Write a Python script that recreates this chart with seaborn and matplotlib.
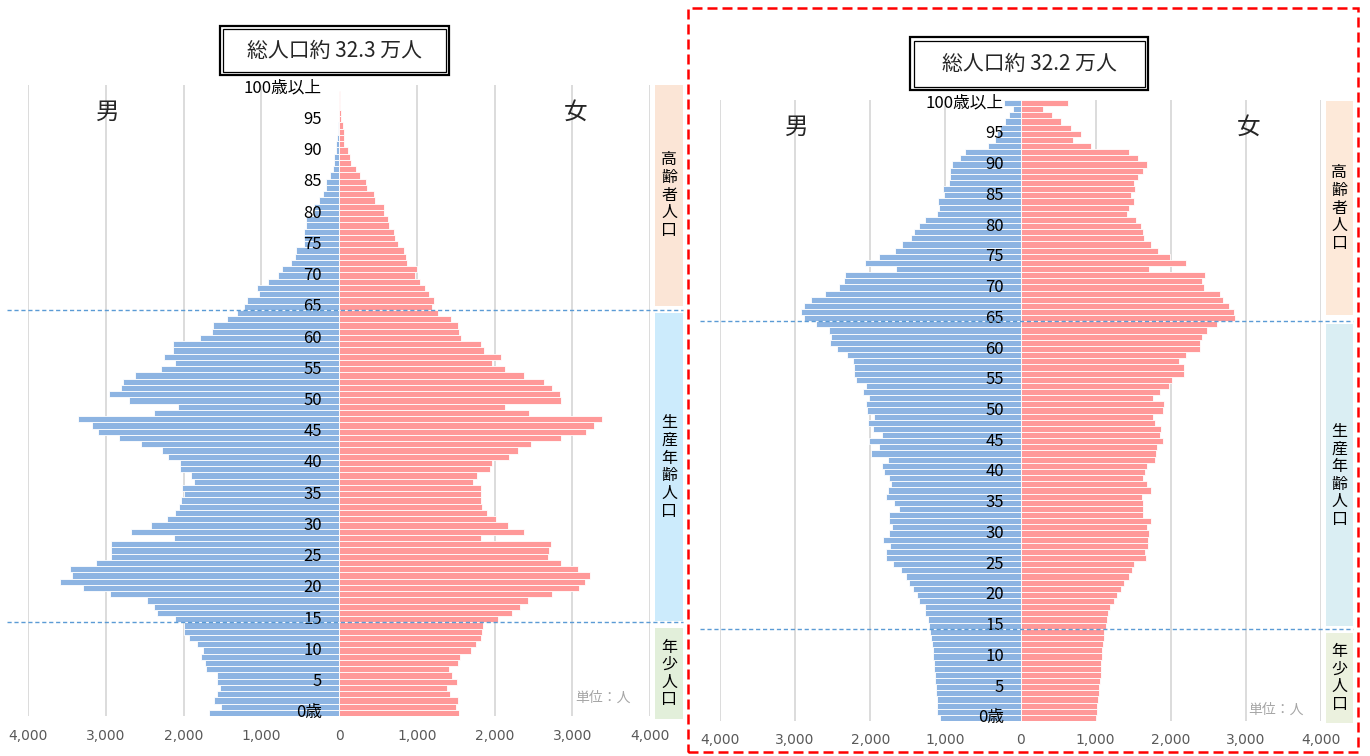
import numpy as np
import pandas as pd
import matplotlib
matplotlib.use('Agg')
import matplotlib.pyplot as plt
from matplotlib.patches import Rectangle
import seaborn as sns

sns.set_style('white')
plt.rcParams['font.family'] = ['Noto Sans CJK JP', 'DejaVu Sans']

# ---- data (ages 0..99, last entry = 100歳以上) ----
ages = list(range(101))

male_a = [1667, 1513, 1603, 1564, 1530, 1568, 1573, 1705, 1718, 1769,
          1744, 1829, 1923, 1996, 1996, 2115, 2346, 2380, 2474, 2949,
          3299, 3585, 3432, 3466, 3128, 2932, 2936, 2936, 2124, 2679,
          2419, 2218, 2111, 2064, 2038, 1996, 2017, 1863, 1906, 2047,
          2047, 2205, 2278, 2543, 2833, 3098, 3175, 3359, 2385, 2077,
          2701, 2953, 2799, 2782, 2624, 2286, 2115, 2248, 2141, 2141,
          1786, 1637, 1624, 1436, 1308, 1222, 1188, 1026, 1060, 919,
          786, 731, 620, 568, 551, 444, 444, 444, 419, 419,
          321, 321, 261, 201, 162, 162, 120, 73, 64, 64,
          43, 38, 21, 13, 9, 6, 4, 2, 1, 1, 0]
female_a = [1543, 1509, 1534, 1427, 1393, 1521, 1453, 1419, 1526, 1560,
            1692, 1761, 1829, 1838, 1850, 2051, 2226, 2325, 2436, 2739,
            3081, 3162, 3226, 3068, 2855, 2688, 2701, 2726, 1821, 2380,
            2175, 2017, 1906, 1842, 1821, 1829, 1829, 1726, 1774, 1940,
            1974, 2192, 2303, 2474, 2855, 3179, 3282, 3389, 2449, 2132,
            2855, 2842, 2739, 2632, 2380, 2137, 1962, 2085, 1863, 1829,
            1568, 1538, 1530, 1444, 1278, 1201, 1222, 1162, 1107, 1038,
            983, 1004, 880, 868, 842, 765, 726, 701, 645, 632,
            581, 581, 457, 449, 355, 342, 274, 214, 158, 137,
            111, 64, 64, 64, 47, 26, 21, 15, 12, 10, 5]

male_b = [1067, 1107, 1111, 1116, 1124, 1129, 1138, 1142, 1151, 1156,
          1160, 1169, 1173, 1187, 1204, 1218, 1231, 1267, 1271, 1351,
          1382, 1436, 1480, 1529, 1587, 1698, 1787, 1787, 1742, 1827,
          1747, 1711, 1756, 1756, 1622, 1689, 1787, 1760, 1720, 1747,
          1813, 1840, 1769, 1991, 1884, 2013, 1849, 1964, 2027, 1947,
          2040, 2053, 2022, 2093, 2058, 2187, 2222, 2222, 2231, 2311,
          2444, 2542, 2529, 2551, 2716, 2884, 2924, 2880, 2791, 2596,
          2422, 2347, 2338, 1658, 2071, 1880, 1676, 1578, 1458, 1422,
          1351, 1271, 1111, 1084, 1093, 1018, 1027, 947, 938, 938,
          907, 800, 733, 436, 342, 311, 276, 209, 147, 102, 222]
female_b = [1000, 1018, 1022, 1031, 1040, 1049, 1053, 1067, 1071, 1076,
            1084, 1089, 1098, 1107, 1116, 1133, 1147, 1169, 1196, 1244,
            1289, 1338, 1382, 1444, 1489, 1516, 1671, 1653, 1693, 1693,
            1716, 1689, 1742, 1636, 1627, 1636, 1613, 1742, 1680, 1631,
            1662, 1689, 1787, 1809, 1822, 1902, 1858, 1876, 1787, 1764,
            1898, 1907, 1764, 1858, 1973, 2018, 2178, 2182, 2107, 2200,
            2396, 2387, 2413, 2480, 2622, 2849, 2840, 2769, 2693, 2662,
            2440, 2413, 2462, 1707, 2209, 1987, 1831, 1733, 1649, 1636,
            1604, 1533, 1422, 1440, 1507, 1467, 1520, 1507, 1560, 1636,
            1680, 1569, 1444, 933, 698, 800, 667, 533, 418, 293, 636]

age_ticks = list(range(0, 100, 5)) + [100]
age_labels = ['0歳'] + [str(a) for a in range(5, 100, 5)] + ['100歳以上']
x_ticks = [-4000, -3000, -2000, -1000, 0, 1000, 2000, 3000, 4000]
x_labels = ['4,000', '3,000', '2,000', '1,000', '0', '1,000', '2,000', '3,000', '4,000']
groups = ['高齢者人口', '生産年齢人口', '年少人口']

MALE = '#8DB4E2'
FEMALE = '#FF9999'
W, H = 1370, 756


def fx(x):
    return x / W


def fy(y):
    return 1 - y / H


def draw_pyramid(fig, male, female, box, band_x, band_spans, band_colors,
                 title, title_box, sex_pos, unit_pos):
    x0, x1, ytop, ybot = box
    ax = fig.add_axes([fx(x0), fy(ybot), fx(x1 - x0), (ybot - ytop) / H])
    df = pd.DataFrame({'age': ages, 'male': -np.array(male), 'female': female})
    sns.barplot(data=df, x='male', y='age', orient='y', native_scale=True,
                color=MALE, saturation=1, width=1.0, edgecolor='white',
                linewidth=0.6, errorbar=None, ax=ax, zorder=2)
    sns.barplot(data=df, x='female', y='age', orient='y', native_scale=True,
                color=FEMALE, saturation=1, width=1.0, edgecolor='white',
                linewidth=0.6, errorbar=None, ax=ax, zorder=2)
    ax.set_xlim(-4000, 4000)
    ax.set_ylim(-0.5, 100.5)
    ax.set_xlabel('')
    ax.set_ylabel('')
    ax.set_yticks([])
    ax.set_xticks(x_ticks)
    ax.set_xticklabels(x_labels, color='#595959', fontsize=10,
                       family=['DejaVu Sans'])
    ax.tick_params(axis='x', length=0, pad=9)
    for s in ax.spines.values():
        s.set_visible(False)
    for xt in x_ticks:
        if xt != 0:
            ax.axvline(xt, color='#D9D9D9', lw=1.3, zorder=0)

    # age labels over the male bars
    for a, lab in zip(age_ticks, age_labels):
        ax.text(-220, a, lab, ha='right', va='center', fontsize=12,
                color='black', zorder=5)

    # dashed boundaries 65 / 15
    for yy in (64.5, 14.5):
        ax.plot([-0.034, 1.053], [yy, yy], transform=ax.get_yaxis_transform(),
                ls=(0, (3, 2)), color='#5B9BD5', lw=1.0, clip_on=False, zorder=6)

    # side bands
    bx0, bx1 = band_x
    bax = fig.add_axes([fx(bx0), fy(ybot), fx(bx1 - bx0), (ybot - ytop) / H])
    bax.set_ylim(-0.5, 100.5)
    bax.set_xlim(0, 1)
    bax.axis('off')
    for (lo, hi), col, g in zip(band_spans, band_colors, groups):
        bax.axhspan(lo, hi, color=col, clip_on=False, lw=0)
        bax.text(0.5, (lo + hi) / 2, '\n'.join(g), ha='center', va='center',
                 fontsize=11.5, linespacing=1.05, color='black')

    # title with double frame
    tx0, ty0, tx1, ty1 = title_box
    for inset, lw in ((0, 1.6), (3.5, 0.9)):
        fig.patches.append(Rectangle((fx(tx0 + inset), fy(ty1 - inset)),
                                     fx(tx1 - tx0 - 2 * inset),
                                     (ty1 - ty0 - 2 * inset) / H,
                                     transform=fig.transFigure, fill=False,
                                     ec='black', lw=lw))
    fig.text(fx((tx0 + tx1) / 2), fy((ty0 + ty1) / 2), title, ha='center',
             va='center', fontsize=15)

    (mx, my), (fxp, fyp) = sex_pos
    fig.text(fx(mx), fy(my), '男', ha='center', va='center', fontsize=17)
    fig.text(fx(fxp), fy(fyp), '女', ha='center', va='center', fontsize=17)
    fig.text(fx(unit_pos[0]), fy(unit_pos[1]), '単位：人', ha='center',
             va='center', fontsize=10, color='#A6A6A6')
    return ax


fig = plt.figure(figsize=(W / 100, H / 100), dpi=100)

draw_pyramid(fig, male_a, female_a,
             box=(28, 650, 85, 716), band_x=(655, 683),
             band_spans=[(65.2, 100.5), (14.7, 64.0), (-1.0, 13.6)],
             band_colors=['#FBE5D6', '#CCEBFC', '#E2EFDA'],
             title='総人口約 32.3 万人', title_box=(220, 26, 449, 75),
             sex_pos=((108, 112), (576, 112)), unit_pos=(603, 698))

draw_pyramid(fig, male_b, female_b,
             box=(720, 1321, 100, 721), band_x=(1326, 1353),
             band_spans=[(65.5, 100.3), (14.9, 64.0), (-0.8, 13.8)],
             band_colors=['#FDE9D9', '#DAEEF3', '#EBF1DE'],
             title='総人口約 32.2 万人', title_box=(910, 37, 1148, 90),
             sex_pos=((797, 127), (1249, 127)), unit_pos=(1276, 710))

# red dashed frame around the right chart
fig.patches.append(Rectangle((fx(688), fy(752)), fx(670), 744 / H,
                             transform=fig.transFigure, fill=False,
                             ec='#FF0000', lw=1.8, ls=(0, (4, 2))))

plt.savefig('out.png', dpi=100)
plt.close()
